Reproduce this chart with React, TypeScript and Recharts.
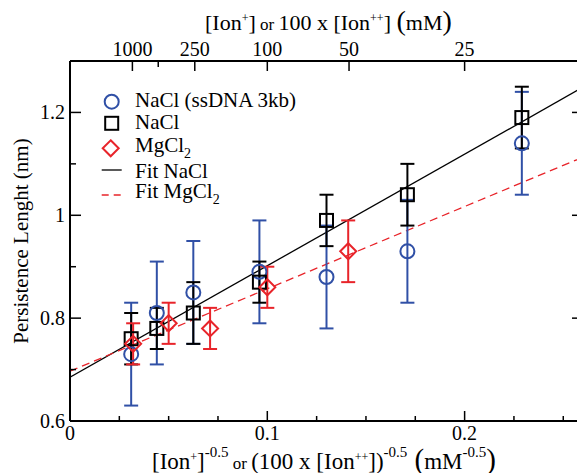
import { ComposedChart, Scatter, Line, XAxis, YAxis, ErrorBar, Legend, Label } from 'recharts'

const FONT = '"Liberation Serif", "Times New Roman", serif'
const BLUE = '#3050a6'
const RED = '#e8242a'
const PLOT_R = 583

// x = [ion]^-0.5, y = persistence length (nm)
const naclX = [0.031, 0.044, 0.0625, 0.096, 0.13, 0.171, 0.229]
const ssdnaY = [0.73, 0.81, 0.85, 0.89, 0.88, 0.93, 1.14]
const ssdnaErr = [0.1, 0.1, 0.1, 0.1, 0.1, 0.1, 0.1]
const naclY = [0.76, 0.78, 0.81, 0.87, 0.99, 1.04, 1.19]
const naclErr = [0.05, 0.04, 0.06, 0.04, 0.05, 0.06, 0.06]
const mgX = [0.032, 0.05, 0.071, 0.1, 0.141]
const mgY = [0.75, 0.79, 0.78, 0.86, 0.93]
const mgErr = [0.04, 0.04, 0.04, 0.04, 0.06]

const fitX = [0, 0.26]
const fitNaclY = [0.685, 1.249]
const fitMgY = [0.697, 1.113]

const xTicks = [0, 0.025, 0.05, 0.075, 0.1, 0.125, 0.15, 0.175, 0.2, 0.225, 0.25]
const xLabels = ['0', '', '', '', '0.1', '', '', '', '0.2', '', '']
const yTicks = [0.6, 0.7, 0.8, 0.9, 1, 1.1, 1.2]
const yLabels = ['0.6', '', '0.8', '', '1', '', '1.2']
const concTicks = [1000, 500, 250, 100, 50, 25] // mM
const concLabels = ['1000', '', '250', '100', '50', '25']

const ssdna = naclX.map((x, i) => ({ x, y: ssdnaY[i], err: ssdnaErr[i] }))
const nacl = naclX.map((x, i) => ({ x, y: naclY[i], err: naclErr[i] }))
const mg = mgX.map((x, i) => ({ x, y: mgY[i], err: mgErr[i] }))
const fitNacl = fitX.map((x, i) => ({ x, y: fitNaclY[i] }))
const fitMg = fitX.map((x, i) => ({ x, y: fitMgY[i] }))
const topTickPos = concTicks.map((c) => 1 / Math.sqrt(c))

const BottomTick = (p: any) => {
  const label = xLabels[p.index]
  const len = label ? 10 : 5
  return (
    <g>
      <line x1={p.x} x2={p.x} y1={p.y} y2={p.y - len} stroke="#000" strokeWidth={1.5} />
      {label && (
        <text x={p.x} y={p.y + 19} textAnchor="middle" fontSize={20} fontFamily={FONT} fill="#000">
          {label}
        </text>
      )}
    </g>
  )
}

const TopTick = (p: any) => {
  const label = concLabels[p.index]
  const len = label ? 10 : 6
  return (
    <g>
      <line x1={p.x} x2={p.x} y1={p.y} y2={p.y + len} stroke="#000" strokeWidth={1.5} />
      {label && (
        <text x={p.x} y={p.y - 5} textAnchor="middle" fontSize={20} fontFamily={FONT} fill="#000">
          {label}
        </text>
      )}
    </g>
  )
}

const LeftTick = (p: any) => {
  const label = yLabels[p.index]
  const len = label ? 11 : 6
  return (
    <g>
      <line x1={p.x} x2={p.x + len} y1={p.y} y2={p.y} stroke="#000" strokeWidth={1.5} />
      <line x1={PLOT_R} x2={PLOT_R - len} y1={p.y} y2={p.y} stroke="#000" strokeWidth={1.5} />
      {label && (
        <text x={p.x - 5} y={p.y + 7} textAnchor="end" fontSize={20} fontFamily={FONT} fill="#000">
          {label}
        </text>
      )}
    </g>
  )
}

const BottomTitle = () => (
  <text x={152} y={469} fontSize={23} fontFamily={FONT} fill="#000">
    <tspan>[Ion</tspan>
    <tspan fontSize={12} dy={-8}>+</tspan>
    <tspan dy={8}>]</tspan>
    <tspan fontSize={15} dy={-12}>-0.5</tspan>
    <tspan fontSize={17} dy={12}> or </tspan>
    <tspan>(100 x [Ion</tspan>
    <tspan fontSize={12} dy={-8}>++</tspan>
    <tspan dy={8}>])</tspan>
    <tspan fontSize={15} dy={-12}>-0.5</tspan>
    <tspan fontSize={29} dy={12}> (</tspan>
    <tspan>mM</tspan>
    <tspan fontSize={15} dy={-12}>-0.5</tspan>
    <tspan fontSize={29} dy={12}>)</tspan>
  </text>
)

const TopTitle = () => (
  <text x={205} y={30} fontSize={22} fontFamily={FONT} fill="#000">
    <tspan>[Ion</tspan>
    <tspan fontSize={12} dy={-8}>+</tspan>
    <tspan dy={8}>]</tspan>
    <tspan fontSize={17}> or </tspan>
    <tspan>100 x [Ion</tspan>
    <tspan fontSize={12} dy={-8}>++</tspan>
    <tspan dy={8}>] </tspan>
    <tspan fontSize={28}>(</tspan>
    <tspan>mM</tspan>
    <tspan fontSize={28}>)</tspan>
  </text>
)

const YTitle = () => (
  <text
    x={28}
    y={241}
    transform="rotate(-90 28 241)"
    textAnchor="middle"
    fontSize={21}
    fontFamily={FONT}
    fill="#000"
  >
    Persistence Lenght (nm)
  </text>
)

const CircleDot = (p: any) => <circle cx={p.cx} cy={p.cy} r={7} fill="none" stroke={BLUE} strokeWidth={2} />
const SquareDot = (p: any) => (
  <rect x={p.cx - 6.5} y={p.cy - 6.5} width={13} height={13} fill="none" stroke="#000" strokeWidth={2} />
)
const DiamondDot = (p: any) => (
  <polygon
    points={`${p.cx},${p.cy - 8} ${p.cx + 8},${p.cy} ${p.cx},${p.cy + 8} ${p.cx - 8},${p.cy}`}
    fill="none"
    stroke={RED}
    strokeWidth={2}
  />
)

const Sub2 = ({ size = 14 }: { size?: number }) => (
  <tspan fontSize={size} dy={6}>2</tspan>
)

// legend box is placed at (90, 85)
const LegendBox = () => (
  <svg width={230} height={125} style={{ display: 'block' }}>
    <g fontFamily={FONT} fontSize={21} fill="#000">
      <circle cx={21.7} cy={16.7} r={7} fill="none" stroke={BLUE} strokeWidth={2} />
      <text x={45} y={22}>NaCl (ssDNA 3kb)</text>
      <rect x={15.2} y={31.8} width={13} height={13} fill="none" stroke="#000" strokeWidth={2} />
      <text x={45} y={44.3}>NaCl</text>
      <polygon points="20.7,55.3 28.7,63.3 20.7,71.3 12.7,63.3" fill="none" stroke={RED} strokeWidth={2} />
      <text x={45} y={66.7}>
        MgCl<Sub2 />
      </text>
      <line x1={11.7} x2={31.7} y1={85} y2={85} stroke="#000" strokeWidth={1.3} />
      <text x={45} y={93.3}>Fit NaCl</text>
      <line x1={11.7} x2={31.7} y1={110} y2={110} stroke={RED} strokeWidth={1.3} strokeDasharray="7 5" />
      <text x={45} y={113.3}>
        Fit MgCl<Sub2 />
      </text>
    </g>
  </svg>
)

export default function App() {
  return (
    <div
      style={{
        position: 'fixed',
        left: 0,
        top: 0,
        width: 577,
        height: 473,
        overflow: 'hidden',
        background: '#fff',
      }}
    >
      <ComposedChart width={600} height={473} margin={{ top: 21, right: 17, bottom: 12, left: 30 }}>
        <XAxis
          type="number"
          dataKey="x"
          domain={[0, 0.26]}
          ticks={xTicks}
          interval={0}
          height={40}
          tickSize={0}
          tickMargin={0}
          tickLine={false}
          tick={<BottomTick />}
          axisLine={{ stroke: '#000', strokeWidth: 2 }}
          allowDataOverflow
        >
          <Label content={() => <BottomTitle />} />
        </XAxis>
        <XAxis
          xAxisId="top"
          orientation="top"
          type="number"
          dataKey="x"
          domain={[0, 0.26]}
          ticks={topTickPos}
          interval={0}
          height={40}
          tickSize={0}
          tickMargin={0}
          tickLine={false}
          tick={<TopTick />}
          axisLine={{ stroke: '#000', strokeWidth: 2 }}
          allowDataOverflow
        >
          <Label content={() => <TopTitle />} />
        </XAxis>
        <YAxis
          type="number"
          dataKey="y"
          domain={[0.6, 1.3]}
          ticks={yTicks}
          interval={0}
          width={40}
          tickSize={0}
          tickMargin={0}
          tickLine={false}
          tick={<LeftTick />}
          axisLine={{ stroke: '#000', strokeWidth: 2 }}
          allowDataOverflow
        >
          <Label content={() => <YTitle />} />
        </YAxis>
        <Legend
          layout="vertical"
          align="center"
          verticalAlign="middle"
          content={() => <LegendBox />}
          wrapperStyle={{ position: 'absolute', left: 90, top: 85, width: 230, height: 125 }}
        />
        <Line data={fitNacl} dataKey="y" stroke="#000" strokeWidth={1.3} dot={false} isAnimationActive={false} />
        <Line
          data={fitMg}
          dataKey="y"
          stroke={RED}
          strokeWidth={1.3}
          strokeDasharray="8 5"
          dot={false}
          isAnimationActive={false}
        />
        <Scatter data={ssdna} shape={<CircleDot />} isAnimationActive={false}>
          <ErrorBar dataKey="err" direction="y" width={7} stroke={BLUE} strokeWidth={2} />
        </Scatter>
        <Scatter data={nacl} shape={<SquareDot />} isAnimationActive={false}>
          <ErrorBar dataKey="err" direction="y" width={7} stroke="#000" strokeWidth={2} />
        </Scatter>
        <Scatter data={mg} shape={<DiamondDot />} isAnimationActive={false}>
          <ErrorBar dataKey="err" direction="y" width={7} stroke={RED} strokeWidth={2} />
        </Scatter>
      </ComposedChart>
    </div>
  )
}
